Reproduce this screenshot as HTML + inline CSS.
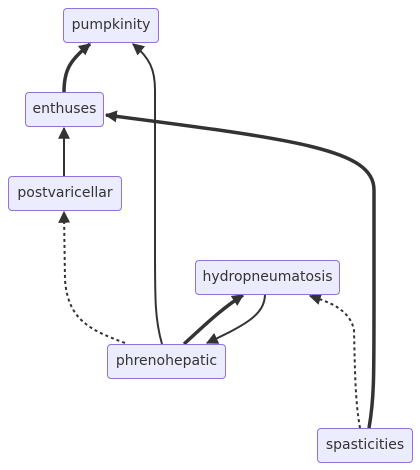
<!DOCTYPE html>
<html><head><style>
body{margin:0;background:#fff;width:420px;height:470px;overflow:hidden;font-family:"DejaVu Sans","Liberation Sans",sans-serif}
.n{position:absolute;background:#ececff;border:1px solid #9370db;border-radius:4px;box-sizing:border-box;height:35px;line-height:33px;text-align:center;font-size:14px;color:#333;white-space:nowrap}
</style></head><body>
<svg width="420" height="470" style="position:absolute;left:0;top:0">
<defs>
<marker id="b" viewBox="0 0 10 10" refX="9" refY="5" markerWidth="12" markerHeight="12" markerUnits="userSpaceOnUse" orient="auto"><path d="M0,0L10,5L0,10z" fill="#333"/></marker>
</defs>
<g fill="none" stroke="#333">
<path d="M64,92 C64,70 70,60 90,44" stroke-width="3.5" marker-end="url(#b)"/>
<path d="M162,344 C155,320 155,300 155,250 L155,90 C155,70 150,58 133,44" stroke-width="2" marker-end="url(#b)"/>
<path d="M64,176 L64,128" stroke-width="2" marker-end="url(#b)"/>
<path d="M369,428 C374,400 374,380 374,300 L374,190 C374,150 300,140 106,115" stroke-width="3.5" marker-end="url(#b)"/>
<path d="M125,343 C90,330 68,320 65,280 L64,212" stroke-width="2" stroke-dasharray="3,3" marker-end="url(#b)"/>
<path d="M184,344 C205,325 220,310 243,295" stroke-width="3.5" marker-end="url(#b)"/>
<path d="M265,294 C265,315 245,325 207,343" stroke-width="2" marker-end="url(#b)"/>
<path d="M360,428 C355,400 355,370 354,330 C350,310 330,302 310,296" stroke-width="2" stroke-dasharray="3,3" marker-end="url(#b)"/>
</g>
</svg>
<div class="n" style="left:63px;top:8px;width:96px">pumpkinity</div>
<div class="n" style="left:25px;top:92px;width:79px">enthuses</div>
<div class="n" style="left:8px;top:176px;width:114px">postvaricellar</div>
<div class="n" style="left:195px;top:260px;width:145px">hydropneumatosis</div>
<div class="n" style="left:107px;top:344px;width:119px">phrenohepatic</div>
<div class="n" style="left:317px;top:428px;width:96px">spasticities</div>
</body></html>
